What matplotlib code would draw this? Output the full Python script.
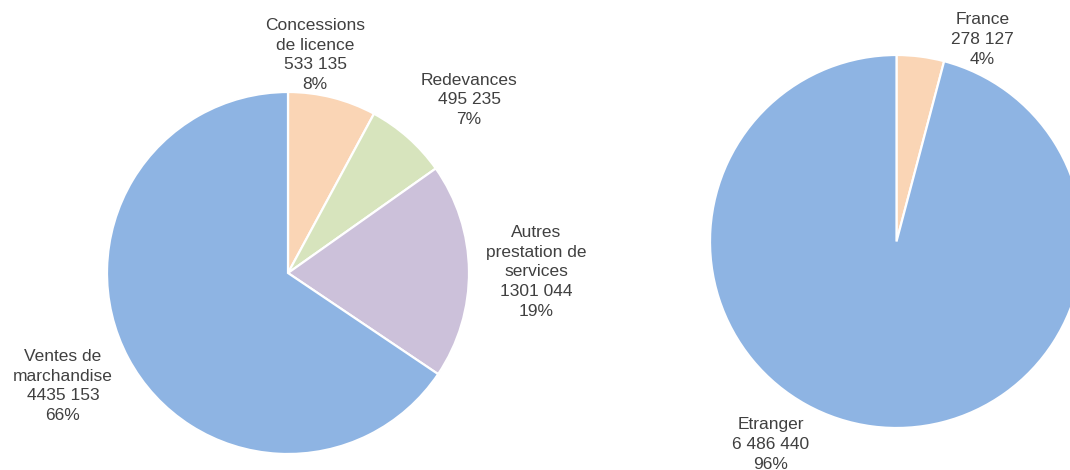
import matplotlib
matplotlib.use("Agg")
import matplotlib.pyplot as plt
import numpy as np

# Data
left_labels = ["Concessions\nde licence", "Redevances", "Autres\nprestation de\nservices", "Ventes de\nmarchandise"]
left_values = [533135, 495235, 1301044, 4435153]
left_value_text = ["533 135", "495 235", "1301 044", "4435 153"]
left_colors = ["#FAD5B5", "#D7E4BD", "#CCC1DA", "#8EB4E3"]

right_labels = ["France", "Etranger"]
right_values = [278127, 6486440]
right_value_text = ["278 127", "6 486 440"]
right_colors = ["#FAD5B5", "#8EB4E3"]

W, H = 1070, 470
fig = plt.figure(figsize=(W / 100, H / 100), dpi=100)
ax = fig.add_axes([0, 0, 1, 1])

plt.rcParams['font.family'] = ['Liberation Sans', 'DejaVu Sans']

# pie geometry (pixels, y measured from bottom)
lc, lr = (288, H - 273), 181
rc, rr = (896.5, H - 241.5), 186.5

# label positions relative to pie centre (pixel offsets, y up)
left_label_off = [(27, 218), (181, 173), (248, 1), (-225, -113)]
right_label_off = [(86, 202), (-126, -203)]

def draw(values, colors, labels, vtexts, center, radius, offs):
    total = sum(values)
    ax.pie(values, colors=colors, startangle=90, counterclock=False,
           center=center, radius=radius,
           wedgeprops=dict(edgecolor="white", linewidth=1.6), frame=True)
    for v, lab, vt, (dx, dy) in zip(values, labels, vtexts, offs):
        pct = round(100 * v / total)
        ax.text(center[0] + dx, center[1] + dy, f"{lab}\n{vt}\n{pct}%",
                ha="center", va="center", fontsize=12.5, color="#404040",
                linespacing=1.4, family=['Liberation Sans', 'DejaVu Sans'])

draw(left_values, left_colors, left_labels, left_value_text, lc, lr, left_label_off)
draw(right_values, right_colors, right_labels, right_value_text, rc, rr, right_label_off)

ax.set_xlim(0, W)
ax.set_ylim(0, H)
ax.set_aspect("equal")
ax.axis("off")

fig.savefig("out.png", dpi=100, facecolor="white")
